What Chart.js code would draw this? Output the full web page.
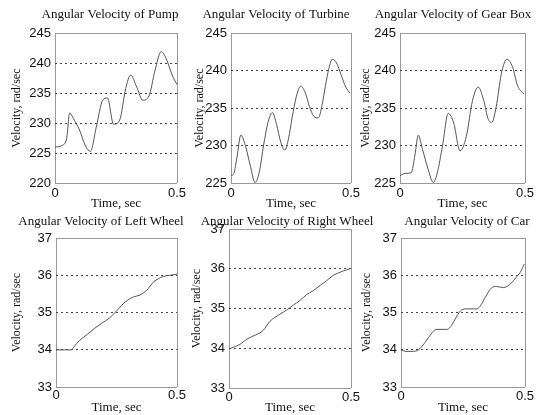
<!DOCTYPE html>
<html>
<head>
  <title>Angular Velocity</title>
  <script src="https://cdn.jsdelivr.net/npm/chart.js"></script>
  <style>
    body { margin: 0; background: #fff; }
    #wrap { position: relative; width: 545px; height: 415px; overflow: hidden; }
    canvas { position: absolute; }
  </style>
</head>
<body>
<div id="wrap"></div>
<script>
// time, sec / velocity, rad/sec
const pumpT = [0, 0.03, 0.048, 0.06, 0.075, 0.1, 0.125, 0.145, 0.17, 0.195, 0.215, 0.24, 0.265, 0.29, 0.31, 0.335, 0.36, 0.385, 0.41, 0.435, 0.455, 0.48, 0.5];
const pumpV = [226.0, 226.3, 227.5, 231.7, 230.8, 228.9, 226.2, 225.3, 229.5, 233.8, 234.2, 229.8, 230.5, 235.8, 238.0, 236.0, 233.8, 234.5, 238.8, 241.9, 240.8, 238.0, 236.4];

const turbT = [0, 0.012, 0.025, 0.041, 0.06, 0.08, 0.1, 0.118, 0.136, 0.155, 0.173, 0.19, 0.207, 0.224, 0.24, 0.255, 0.272, 0.29, 0.31, 0.327, 0.345, 0.364, 0.38, 0.393, 0.408, 0.422, 0.44, 0.459, 0.478, 0.496];
const turbV = [226.0, 226.3, 228.5, 231.4, 230.0, 227.4, 225.1, 226.5, 230.1, 233.2, 234.4, 232.8, 230.5, 229.4, 231.0, 233.8, 236.5, 237.9, 237.0, 235.2, 233.9, 233.7, 235.5, 237.9, 240.3, 241.5, 241.0, 239.4, 237.8, 237.0];

const gearT = [0, 0.02, 0.045, 0.06, 0.073, 0.09, 0.113, 0.133, 0.15, 0.17, 0.193, 0.215, 0.24, 0.265, 0.29, 0.313, 0.335, 0.352, 0.367, 0.385, 0.405, 0.427, 0.45, 0.47, 0.495];
const gearV = [226.0, 226.3, 226.4, 228.8, 231.4, 229.5, 226.8, 225.1, 226.5, 230.0, 234.3, 233.0, 229.3, 231.2, 236.0, 237.8, 236.0, 233.6, 233.1, 235.2, 239.5, 241.5, 240.5, 238.0, 236.9];

const leftT = [0, 0.04, 0.0625, 0.076, 0.097, 0.13, 0.16, 0.19, 0.222, 0.255, 0.285, 0.32, 0.347, 0.375, 0.403, 0.444, 0.47, 0.5];
const leftV = [34.0, 34.0, 34.0, 34.1, 34.25, 34.42, 34.58, 34.72, 34.86, 35.08, 35.28, 35.42, 35.47, 35.6, 35.82, 35.97, 36.0, 36.03];

const rightT = [0.005, 0.018, 0.045, 0.072, 0.11, 0.14, 0.168, 0.209, 0.24, 0.264, 0.29, 0.318, 0.345, 0.373, 0.4, 0.428, 0.45, 0.469, 0.496];
const rightV = [34.0, 34.03, 34.1, 34.23, 34.34, 34.45, 34.68, 34.86, 34.98, 35.09, 35.2, 35.35, 35.45, 35.58, 35.7, 35.84, 35.9, 35.95, 36.0];

const carT = [0, 0.02, 0.05, 0.07, 0.084, 0.11, 0.13, 0.145, 0.185, 0.2, 0.218, 0.239, 0.26, 0.306, 0.322, 0.339, 0.366, 0.385, 0.413, 0.446, 0.465, 0.48, 0.497];
const carV = [34.0, 33.96, 33.96, 34.0, 34.09, 34.32, 34.5, 34.55, 34.55, 34.62, 34.82, 35.04, 35.1, 35.1, 35.2, 35.4, 35.67, 35.7, 35.67, 35.8, 35.95, 36.07, 36.3];

const engineRange = [220, 245, 5];
const turbRange = [225, 245, 5];
const wheelRange = [33, 37, 1];
const timeRange = [0, 0.5];

// layout: plot box [left, right, top, bottom] in page pixels, titleX = centre of the title
const panels = [
  { title: 'Angular Velocity of Pump', t: pumpT, v: pumpV, range: engineRange, box: [55, 177, 33, 183], titleX: 110, titleY: 15, yTitleX: 17, xGap: 2, xTitleY: 203 },
  { title: 'Angular Velocity of Turbine', t: turbT, v: turbV, range: turbRange, box: [231, 351, 33, 183], titleX: 276, titleY: 15, yTitleX: 200, xGap: 2, xTitleY: 203 },
  { title: 'Angular Velocity of Gear Box', t: gearT, v: gearV, range: turbRange, box: [400, 525, 33, 183], titleX: 453, titleY: 15, yTitleX: 366, xGap: 2, xTitleY: 203 },
  { title: 'Angular Velocity of Left Wheel', t: leftT, v: leftV, range: wheelRange, box: [56, 177, 238, 387], titleX: 101, titleY: 222, yTitleX: 17, xGap: 0, xTitleY: 407 },
  { title: 'Angular Velocity of Right Wheel', t: rightT, v: rightV, range: wheelRange, box: [229, 351, 229, 388], titleX: 287, titleY: 222, yTitleX: 197, xGap: 1, xTitleY: 407 },
  { title: 'Angular Velocity of Car', t: carT, v: carV, range: wheelRange, box: [401, 525, 238, 387], titleX: 467, titleY: 222, yTitleX: 367, xGap: 1, xTitleY: 407 }
];

const serif = 'Liberation Serif';
const sans = 'Liberation Sans';
const half = 13 * 1.2 / 2;
const yHalf = 12 * 1.2 / 2;

panels.forEach(p => {
  const [l, r, t, b] = p.box;
  const [ymin, ymax, ystep] = p.range;
  const yW = Math.round(l - p.yTitleX + yHalf);
  // spare right box so the full-width title is centred where the scan has it
  const y2W = Math.max(0, 2 * p.titleX - (l - yW) - r);
  const xH = p.xTitleY - b + half;
  const pr = 8;
  const top = p.titleY - 10;
  const canvas = document.createElement('canvas');
  canvas.width = yW + (r - l) + y2W + pr;
  canvas.height = Math.round(b - top + xH);
  canvas.style.left = (l - yW) + 'px';
  canvas.style.top = top + 'px';
  document.getElementById('wrap').appendChild(canvas);

  const edge = v => v === ymin || v === ymax;

  new Chart(canvas, {
    type: 'line',
    data: {
      datasets: [{
        data: p.t.map((x, i) => ({ x: x, y: p.v[i] })),
        borderColor: '#555',
        borderWidth: 1,
        pointRadius: 0,
        tension: 0.4,
        cubicInterpolationMode: 'monotone'
      }]
    },
    options: {
      responsive: false,
      animation: false,
      events: [],
      layout: { padding: { left: 0, right: pr, top: 0, bottom: 0 } },
      plugins: {
        legend: { display: false },
        tooltip: { enabled: false },
        title: {
          display: true,
          text: p.title,
          color: '#111',
          font: { family: serif, size: 13, weight: 'normal' },
          padding: { top: p.titleY - top - half, bottom: t - p.titleY - half }
        }
      },
      scales: {
        x: {
          type: 'linear',
          min: timeRange[0],
          max: timeRange[1],
          afterFit: s => { s.height = xH; },
          ticks: { stepSize: 0.5, autoSkip: false, maxRotation: 0, padding: p.xGap, color: '#111', font: { family: sans, size: 13 } },
          grid: { color: '#999', drawTicks: false },
          border: { display: false },
          title: { display: true, text: 'Time, sec', color: '#111', padding: 0, font: { family: serif, size: 13 } }
        },
        y: {
          min: ymin,
          max: ymax,
          afterFit: s => { s.width = yW; },
          ticks: { stepSize: ystep, padding: 4, color: '#111', font: { family: sans, size: 13 } },
          grid: {
            drawTicks: false,
            color: c => edge(c.tick.value) ? '#999' : '#444'
          },
          border: {
            display: false,
            dash: c => (c.tick && !edge(c.tick.value)) ? [2, 3] : []
          },
          title: { display: true, text: 'Velocity, rad/sec', color: '#111', padding: 0, font: { family: serif, size: 12 } }
        },
        y2: {
          position: 'right',
          afterFit: s => { s.width = y2W; },
          ticks: { display: false },
          grid: { display: false },
          border: { display: false }
        }
      }
    }
  });
});
</script>
</body>
</html>
